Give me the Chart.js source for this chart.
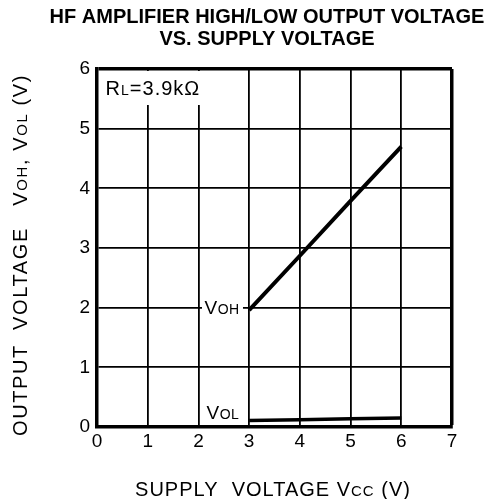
<!DOCTYPE html>
<html>
<head>
<meta charset="utf-8">
<script src="https://cdn.jsdelivr.net/npm/chart.js@4"></script>
<style>
html,body{margin:0;padding:0;background:#fff;}
#wrap{width:488px;height:499px;}
</style>
</head>
<body>
<div id="wrap"><canvas id="c" width="488" height="499"></canvas></div>
<script>
// ---- data ----
const vcc = [3, 4, 5, 6];
const voh = [1.96, 2.87, 3.79, 4.70];
const vol = [0.11, 0.12, 0.14, 0.15];
const xTicks = [0, 1, 2, 3, 4, 5, 6, 7];
const yTicks = [0, 1, 2, 3, 4, 5, 6];
const titleLines = ['HF AMPLIFIER HIGH/LOW OUTPUT VOLTAGE', 'VS. SUPPLY VOLTAGE'];

const FONT = '"Liberation Sans", Arial, sans-serif';

function drawRich(ctx, segs, x, y, align, spacing) {
  // segs: [[text, size], ...]
  ctx.letterSpacing = (spacing || 0) + 'px';
  let total = 0;
  segs.forEach(s => { ctx.font = s[1] + 'px ' + FONT; total += ctx.measureText(s[0]).width; });
  let cx = align === 'center' ? x - total / 2 : x;
  ctx.textAlign = 'left';
  ctx.textBaseline = 'alphabetic';
  segs.forEach(s => {
    ctx.font = s[1] + 'px ' + FONT;
    ctx.fillText(s[0], cx, y);
    cx += ctx.measureText(s[0]).width;
  });
  ctx.letterSpacing = '0px';
  return total;
}

const annot = {
  id: 'annot',
  beforeDraw(chart) {
    const ctx = chart.ctx;
    ctx.save();
    ctx.fillStyle = '#fff';
    ctx.fillRect(0, 0, chart.width, chart.height);
    ctx.restore();
  },
  beforeDatasetsDraw(chart) {
    const ctx = chart.ctx, xs = chart.scales.x, ys = chart.scales.y;
    ctx.save();
    // white label boxes masking grid
    ctx.fillStyle = '#fff';
    ctx.fillRect(xs.getPixelForValue(0) + 2, ys.getPixelForValue(6) + 2, xs.getPixelForValue(2.14) - xs.getPixelForValue(0) - 2, 34);
    ctx.fillRect(xs.getPixelForValue(2.07), ys.getPixelForValue(2) - 9, 41, 18);
    ctx.fillRect(xs.getPixelForValue(2.07), ys.getPixelForValue(0.23) - 10, 41, 19);
    ctx.fillStyle = '#000';
    drawRich(ctx, [['R', 20], ['L', 14], ['=3.9k\u03A9', 20]], xs.getPixelForValue(0.17), ys.getPixelForValue(5.68) + 7, 'left', 1);
    drawRich(ctx, [['V', 19], ['OH', 14]], xs.getPixelForValue(2.12), ys.getPixelForValue(2) + 6, 'left', 0.5);
    drawRich(ctx, [['V', 19], ['OL', 14]], xs.getPixelForValue(2.16), ys.getPixelForValue(0.23) + 6, 'left', 0.5);
    ctx.restore();
  },
  afterDraw(chart) {
    const ctx = chart.ctx;
    ctx.save();
    ctx.fillStyle = '#000';
    // title
    ctx.font = 'bold 20px ' + FONT;
    ctx.textAlign = 'center';
    ctx.textBaseline = 'middle';
    ctx.fillText(titleLines[0], 267, 17);
    ctx.fillText(titleLines[1], 267, 39);
    // x title
    drawRich(ctx, [['SUPPLY  VOLTAGE V', 20], ['CC', 15], [' (V)', 20]], 273, 496, 'center', 1);
    // y title
    ctx.translate(27, 255);
    ctx.rotate(-Math.PI / 2);
    drawRich(ctx, [['OUTPUT  VOLTAGE   V', 20], ['OH', 15], [', V', 20], ['OL', 15], [' (V)', 20]], 0, 0, 'center', 1.6);
    ctx.restore();
  }
};

new Chart(document.getElementById('c'), {
  type: 'line',
  data: {
    datasets: [
      { data: vcc.map((x, i) => ({ x, y: voh[i] })), borderColor: '#000', borderWidth: 4, pointRadius: 0, tension: 0 },
      { data: vcc.map((x, i) => ({ x, y: vol[i] })), borderColor: '#000', borderWidth: 3.5, pointRadius: 0, tension: 0 }
    ]
  },
  options: {
    responsive: false,
    animation: false,
    devicePixelRatio: 1,
    layout: { padding: { top: 69, right: 36, left: 0, bottom: 0 } },
    plugins: { legend: { display: false }, tooltip: { enabled: false } },
    scales: {
      x: {
        type: 'linear', min: 0, max: 7,
        afterFit(s) { s.height = 72; },
        afterBuildTicks(s) { s.ticks = xTicks.map(v => ({ value: v })); },
        ticks: { color: '#000', font: { family: FONT, size: 19 }, padding: 3, maxRotation: 0 },
        grid: { color: '#000', lineWidth: c => (c.tick && (c.tick.value === 7) ? 3.5 : 1.8), drawTicks: false },
        border: { color: '#000', width: 3.5 }
      },
      y: {
        type: 'linear', min: 0, max: 6,
        afterFit(s) { s.width = 97; },
        afterBuildTicks(s) { s.ticks = yTicks.map(v => ({ value: v })); },
        ticks: { color: '#000', font: { family: FONT, size: 19 }, padding: 7 },
        grid: { color: '#000', lineWidth: c => (c.tick && (c.tick.value === 6) ? 3.5 : 1.8), drawTicks: false },
        border: { color: '#000', width: 3.5 }
      }
    }
  },
  plugins: [annot]
});
</script>
</body>
</html>
